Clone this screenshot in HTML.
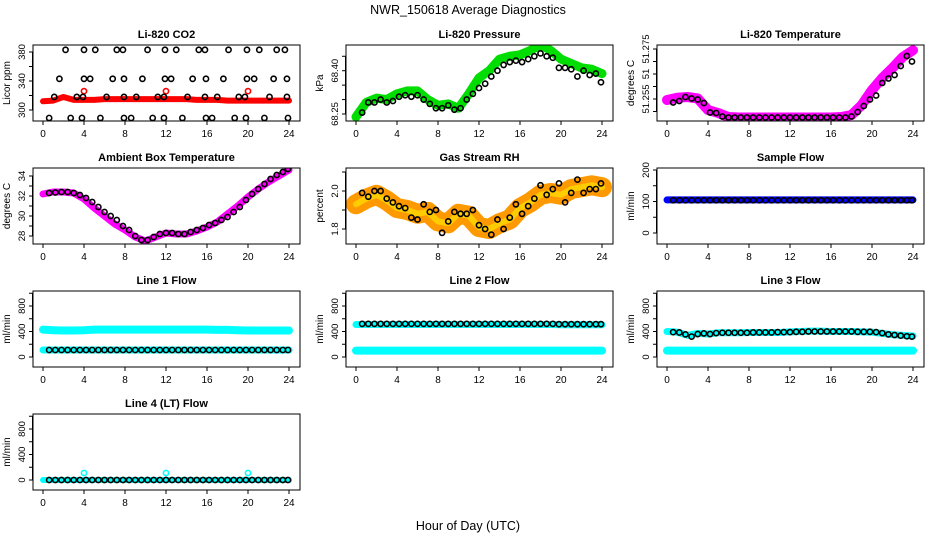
<!DOCTYPE html>
<html><head><meta charset="utf-8">
<style>
html,body{margin:0;padding:0;background:#fff;}
svg{display:block;font-family:"Liberation Sans",Arial,sans-serif;}
</style></head>
<body>
<svg id="chart" width="936" height="540" viewBox="0 0 936 540">
<rect width="936" height="540" fill="#fff"/>
<text x="468" y="14" text-anchor="middle" font-size="12.5">NWR_150618  Average Diagnostics</text>
<text x="468" y="530" text-anchor="middle" font-size="12.5">Hour of Day (UTC)</text>
</svg>
<script>
const xTicks = [0,4,8,12,16,20,24];
const H25 = [0,1,2,3,4,5,6,7,8,9,10,11,12,13,14,15,16,17,18,19,20,21,22,23,24];
const T40 = [0.6,1.2,1.8,2.4,3.0,3.6,4.2,4.8,5.4,6.0,6.6,7.2,7.8,8.4,9.0,9.6,10.2,10.8,11.4,12.0,12.6,13.2,13.8,14.4,15.0,15.6,16.2,16.8,17.4,18.0,18.6,19.2,19.8,20.4,21.0,21.6,22.2,22.8,23.4,23.9];

// CO2
const co2Cloud = [312,313,318,314,314,314,315,315,315,315,315,315,315,315,315,314,314,314,313,313,313,313,313,313,313];
const co2RedOutT = [4,12,20];
const co2RedOutV = [326,326,326];
const co2T383 = [2.2,4,5.1,7.2,7.8,10.2,11.9,13,15.2,15.8,18.1,19.9,21.1,22.8,23.6];
const co2T343 = [1.6,4,4.6,6.8,7.9,9.7,11.9,12.5,14.6,15.9,17.6,19.9,20.6,22.5,23.8];
const co2T318 = [1.1,3.3,3.9,6.2,7.9,9.1,11.2,11.8,14.1,15.8,17,19.1,19.7,22.1,23.8];
const co2T289 = [0.6,2.7,3.8,5.6,7.9,8.6,10.7,11.8,13.6,15.9,16.5,18.7,19.8,21.6,23.9];
const co2Levels = [383,343,318,289];

// Pressure
const presCloud = [68.24,68.29,68.305,68.30,68.32,68.33,68.33,68.30,68.28,68.285,68.27,68.32,68.375,68.40,68.44,68.45,68.455,68.47,68.49,68.47,68.44,68.425,68.41,68.405,68.39];
const presBlack = [68.255,68.29,68.29,68.30,68.29,68.295,68.31,68.315,68.31,68.315,68.30,68.285,68.27,68.27,68.28,68.265,68.27,68.30,68.32,68.34,68.355,68.38,68.40,68.42,68.43,68.435,68.43,68.44,68.45,68.46,68.45,68.445,68.41,68.41,68.405,68.38,68.40,68.385,68.39,68.36];

// Li temperature
const ltCloud = [51.2546,51.2555,51.2558,51.2552,51.2506,51.2494,51.2478,51.2476,51.2476,51.2476,51.2476,51.2476,51.2476,51.2476,51.2476,51.2476,51.2476,51.2478,51.2486,51.2526,51.2586,51.2634,51.2674,51.2718,51.2745];
const ltBlack = [51.2536,51.2542,51.2558,51.2552,51.2548,51.2534,51.2496,51.2494,51.2480,51.2476,51.2476,51.2476,51.2476,51.2476,51.2476,51.2476,51.2476,51.2476,51.2476,51.2476,51.2476,51.2476,51.2476,51.2476,51.2476,51.2476,51.2476,51.2476,51.2476,51.248,51.2498,51.2522,51.2548,51.2564,51.2614,51.2632,51.2646,51.2682,51.2722,51.270];

// Ambient
const ambCloud = [32.2,32.4,32.4,32.3,31.7,30.8,30.0,29.2,28.6,27.9,27.5,27.9,28.3,28.2,28.2,28.5,28.9,29.4,30.2,31.0,31.9,32.7,33.4,34.0,34.6];
const ambBlack = [32.3,32.35,32.4,32.4,32.3,32.1,31.8,31.4,30.9,30.4,30.0,29.6,29.0,28.6,28.0,27.6,27.6,27.9,28.2,28.3,28.3,28.2,28.2,28.4,28.6,28.8,29.1,29.3,29.6,29.9,30.4,30.9,31.6,32.2,32.7,33.2,33.7,34.1,34.4,34.7];

// RH
const rhCloud = [1.93,1.96,1.98,1.95,1.91,1.90,1.88,1.89,1.84,1.83,1.88,1.87,1.81,1.80,1.83,1.85,1.91,1.94,1.98,1.99,1.98,2.01,2.02,2.03,2.02];
const rhBlack = [1.99,1.97,2.00,2.00,1.96,1.94,1.92,1.91,1.86,1.85,1.93,1.89,1.90,1.78,1.84,1.89,1.88,1.88,1.90,1.82,1.80,1.77,1.85,1.80,1.86,1.93,1.88,1.92,1.96,2.03,1.98,2.01,2.04,1.94,1.99,2.06,1.99,2.01,2.01,2.04];

// Flows
const sampCloud = [105,105,105,105,105,105,105,105,105,105,105,105,105,105,105,105,105,105,105,105,105,105,105,105,105];
const sampBlack = [104,104,104,104,104,104,104,104,104,104,104,104,104,104,104,104,104,104,104,104,104,104,104,104,104,104,104,104,104,104,104,104,104,104,104,104,104,104,104,104];
const l1CyanHi = [430,420,415,415,420,430,430,430,430,430,430,430,430,430,430,430,430,425,425,420,415,415,415,415,415];
const l1CyanLo = [110,110,110,110,110,110,110,110,110,110,110,110,110,110,110,110,110,110,110,110,110,110,110,110,110];
const l1Black = [110,110,110,110,110,110,110,110,110,110,110,110,110,110,110,110,110,110,110,110,110,110,110,110,110,110,110,110,110,110,110,110,110,110,110,110,110,110,110,110];
const l2CyanHi = [510,510,510,510,510,510,510,510,510,510,510,510,510,510,510,510,510,510,510,510,505,505,505,505,505];
const l2CyanLo = [100,100,100,100,100,100,100,100,100,100,100,100,100,100,100,100,100,100,100,100,100,100,100,100,100];
const l2Black = [520,520,520,520,520,520,520,520,520,520,520,520,520,520,520,520,520,520,520,520,520,520,520,520,520,520,520,520,520,520,520,520,515,515,515,515,515,515,515,515];
const l3CyanHi = [400,390,340,370,360,380,380,380,385,385,385,385,395,400,405,405,400,400,400,395,390,370,350,340,330];
const l3CyanLo = [100,100,100,100,100,100,100,100,100,100,100,100,100,100,100,100,100,100,100,100,100,100,100,100,100];
const l3Black = [390,385,355,320,360,370,360,375,380,380,380,380,380,385,385,385,385,390,390,390,395,395,400,400,400,400,400,400,400,400,395,395,395,390,375,355,345,335,325,320];
const l4Cyan = [0,0,0,0,0,0,0,0,0,0,0,0,0,0,0,0,0,0,0,0,0,0,0,0,0];
const l4CyanOutT = [4,12,20];
const l4CyanOutV = [110,110,110];
const l4Black = [0,0,0,0,0,0,0,0,0,0,0,0,0,0,0,0,0,0,0,0,0,0,0,0,0,0,0,0,0,0,0,0,0,0,0,0,0,0,0,0];
const flowTicks = [0,200,400,600,800,1000];
const flowLabels = ['0','','400','','800',''];

const NS = 'http://www.w3.org/2000/svg';
const svg = document.getElementById('chart');
function mk(tag, attrs, parent){
  const e = document.createElementNS(NS, tag);
  for (const k in attrs) e.setAttribute(k, attrs[k]);
  (parent||svg).appendChild(e);
  return e;
}
const colL = [33,346,657], rowT = [45,168,291,414];
function panel(col,row,title,ylab,ticks,labels,v0,y0,v1,y1,name){
  const L = colL[col], R = L+267, T = rowT[row], B = T+76;
  const g = mk('g',{});
  
  
  const xs = h => (L+10) + h*((R-11)-(L+10))/24;
  const ys = v => y0 + (v-v0)*(y1-y0)/(v1-v0);
  const t = mk('text',{x:(L+R)/2,y:T-7,'text-anchor':'middle','font-size':11,'font-weight':'bold'},g);
  t.textContent = title;
  
  
  const xa = mk('g',{},g);
  
  
  xTicks.forEach(h=>{
    mk('line',{x1:xs(h),x2:xs(h),y1:B,y2:B+4,stroke:'#000'},xa);
    const tl = mk('text',{x:xs(h),y:B+16,'text-anchor':'middle','font-size':10},xa);
    tl.textContent = h;
  });
  const ya = mk('g',{},g);
  
  
  mk('line',{x1:L-0.5,x2:L-0.5,y1:ys(ticks[0]),y2:ys(ticks[ticks.length-1]),stroke:'#000'},ya);
  ticks.forEach((v,i)=>{
    const y = ys(v);
    mk('line',{x1:L-4,x2:L,y1:y,y2:y,stroke:'#000'},ya);
    if (labels[i]) {
      const tl = mk('text',{x:0,y:0,'text-anchor':'middle','font-size':9.5,transform:`translate(${L-8},${y}) rotate(-90)`},ya);
      tl.textContent = labels[i];
    }
  });
  const yl = mk('text',{x:0,y:0,'text-anchor':'middle','font-size':10,transform:`translate(${L-23},${(T+B)/2}) rotate(-90)`},g);
  yl.textContent = ylab;
  
  
  const plot = mk('g',{},g);
  
  
  const cp = mk('clipPath',{id:'cp'+name},g);
  mk('rect',{x:L,y:T,width:267,height:76},cp);
  plot.setAttribute('clip-path','url(#cp'+name+')');
  mk('rect',{x:L,y:T,width:267,height:76,fill:'none',stroke:'#000','stroke-width':1},g);
  return {xs,ys,plot};
}
function cloud(p,ts,vs,color,w,name){
  const pl = mk('polyline',{points:ts.map((t,i)=>p.xs(t)+','+p.ys(vs[i])).join(' '),fill:'none',stroke:color,'stroke-width':w,'stroke-linejoin':'round','stroke-linecap':'round'},p.plot);
  
  
}
function pts(p,ts,vs,color,name){
  const g = mk('g',{},p.plot);
  
  
  ts.forEach((t,i)=>{
    mk('circle',{cx:p.xs(t),cy:p.ys(vs[i]),r:2.6,fill:'none',stroke:color,'stroke-width':1.6},g);
  });
}

// Panels
let p = panel(0,0,'Li-820 CO2','Licor ppm',[300,320,340,360,380],['300','','340','','380'],300,110,380,52,'co2');
cloud(p,H25,co2Cloud,'#f00',6,'co2-cloud');
pts(p,co2RedOutT,co2RedOutV,'#f00','co2-red-outliers');
[co2T383,co2T343,co2T318,co2T289].forEach((ts,k)=>pts(p,ts,ts.map(()=>co2Levels[k]),'#000','co2-black-points-'+k));

p = panel(1,0,'Li-820 Pressure','kPa',[68.25,68.30,68.35,68.40,68.45],['68.25','','','68.40',''],68.25,114,68.40,70.7,'pressure');
cloud(p,H25,presCloud,'#0d0',9,'pressure-cloud');
pts(p,T40,presBlack,'#000','pressure-points');

p = panel(2,0,'Li-820 Temperature','degrees C',[51.25,51.255,51.26,51.265,51.27,51.275],['','51.255','','51','','51.275'],51.255,99,51.275,49,'li-temp');
cloud(p,H25,ltCloud,'#f0f',10,'li-temp-cloud');
pts(p,T40,ltBlack,'#000','li-temp-points');

p = panel(0,1,'Ambient Box Temperature','degrees C',[28,29,30,31,32,33,34],['28','','30','','32','','34'],28,236,34,176,'ambient');
cloud(p,H25,ambCloud,'#f0f',7,'ambient-cloud');
pts(p,T40,ambBlack,'#000','ambient-points');

p = panel(1,1,'Gas Stream RH','percent',[1.8,1.9,2.0,2.1],['1.8','','2.0',''],1.8,229,2.0,191,'rh');
cloud(p,H25,rhCloud,'#f90',20,'rh-cloud');
cloud(p,H25,rhCloud,'#fc0',6,'rh-cloud-core');
pts(p,T40,rhBlack,'#000','rh-points');

p = panel(2,1,'Sample Flow','ml/min',[0,50,100,150,200],['0','','100','','200'],0,233,200,170,'sample-flow');
cloud(p,H25,sampCloud,'#00f',7,'sample-flow-cloud');
pts(p,T40,sampBlack,'#000','sample-flow-points');

p = panel(0,2,'Line 1 Flow','ml/min',flowTicks,flowLabels,0,357,800,306,'line1');
cloud(p,H25,l1CyanHi,'#0ff',8,'line1-cyan-high');
cloud(p,H25,l1CyanLo,'#0ff',7,'line1-cyan-low');
pts(p,T40,l1Black,'#000','line1-points');

p = panel(1,2,'Line 2 Flow','ml/min',flowTicks,flowLabels,0,357,800,306,'line2');
cloud(p,H25,l2CyanHi,'#0ff',7,'line2-cyan-high');
cloud(p,H25,l2CyanLo,'#0ff',8,'line2-cyan-low');
pts(p,T40,l2Black,'#000','line2-points');

p = panel(2,2,'Line 3 Flow','ml/min',flowTicks,flowLabels,0,357,800,306,'line3');
cloud(p,H25,l3CyanHi,'#0ff',7,'line3-cyan-high');
cloud(p,H25,l3CyanLo,'#0ff',8,'line3-cyan-low');
pts(p,T40,l3Black,'#000','line3-points');

p = panel(0,3,'Line 4 (LT) Flow','ml/min',flowTicks,flowLabels,0,480,800,429,'line4');
cloud(p,H25,l4Cyan,'#0ff',6,'line4-cyan');
pts(p,l4CyanOutT,l4CyanOutV,'#0ff','line4-cyan-outliers');
pts(p,T40,l4Black,'#000','line4-points');
</script>
</body></html>
